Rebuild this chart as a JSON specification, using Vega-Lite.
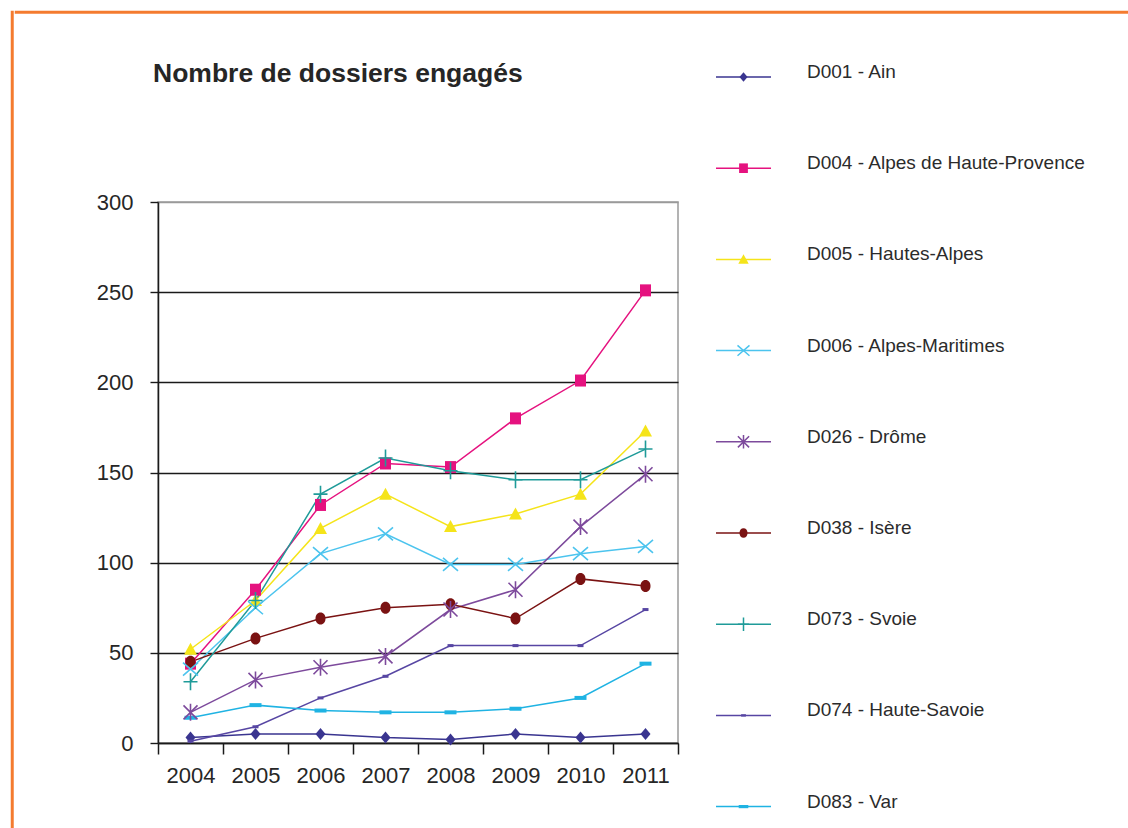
{
  "$schema": "https://vega.github.io/schema/vega-lite/v6.json",
  "padding": {"left": 10, "top": 10, "right": 0, "bottom": 0},
  "background": "white",
  "config": {
    "font": "Liberation Sans",
    "view": {"stroke": null}
  },
  "datasets": {
    "dossiers": [
      {"series": "D001 - Ain", "year": "2004", "value": 3},
      {"series": "D001 - Ain", "year": "2005", "value": 5},
      {"series": "D001 - Ain", "year": "2006", "value": 5},
      {"series": "D001 - Ain", "year": "2007", "value": 3},
      {"series": "D001 - Ain", "year": "2008", "value": 2},
      {"series": "D001 - Ain", "year": "2009", "value": 5},
      {"series": "D001 - Ain", "year": "2010", "value": 3},
      {"series": "D001 - Ain", "year": "2011", "value": 5},
      {"series": "D004 - Alpes de Haute-Provence", "year": "2004", "value": 44},
      {"series": "D004 - Alpes de Haute-Provence", "year": "2005", "value": 85},
      {"series": "D004 - Alpes de Haute-Provence", "year": "2006", "value": 132},
      {"series": "D004 - Alpes de Haute-Provence", "year": "2007", "value": 155},
      {"series": "D004 - Alpes de Haute-Provence", "year": "2008", "value": 153},
      {"series": "D004 - Alpes de Haute-Provence", "year": "2009", "value": 180},
      {"series": "D004 - Alpes de Haute-Provence", "year": "2010", "value": 201},
      {"series": "D004 - Alpes de Haute-Provence", "year": "2011", "value": 251},
      {"series": "D005 - Hautes-Alpes", "year": "2004", "value": 52},
      {"series": "D005 - Hautes-Alpes", "year": "2005", "value": 79},
      {"series": "D005 - Hautes-Alpes", "year": "2006", "value": 119},
      {"series": "D005 - Hautes-Alpes", "year": "2007", "value": 138},
      {"series": "D005 - Hautes-Alpes", "year": "2008", "value": 120},
      {"series": "D005 - Hautes-Alpes", "year": "2009", "value": 127},
      {"series": "D005 - Hautes-Alpes", "year": "2010", "value": 138},
      {"series": "D005 - Hautes-Alpes", "year": "2011", "value": 173},
      {"series": "D006 - Alpes-Maritimes", "year": "2004", "value": 41},
      {"series": "D006 - Alpes-Maritimes", "year": "2005", "value": 75},
      {"series": "D006 - Alpes-Maritimes", "year": "2006", "value": 105},
      {"series": "D006 - Alpes-Maritimes", "year": "2007", "value": 116},
      {"series": "D006 - Alpes-Maritimes", "year": "2008", "value": 99},
      {"series": "D006 - Alpes-Maritimes", "year": "2009", "value": 99},
      {"series": "D006 - Alpes-Maritimes", "year": "2010", "value": 105},
      {"series": "D006 - Alpes-Maritimes", "year": "2011", "value": 109},
      {"series": "D026 - Drôme", "year": "2004", "value": 17},
      {"series": "D026 - Drôme", "year": "2005", "value": 35},
      {"series": "D026 - Drôme", "year": "2006", "value": 42},
      {"series": "D026 - Drôme", "year": "2007", "value": 48},
      {"series": "D026 - Drôme", "year": "2008", "value": 74},
      {"series": "D026 - Drôme", "year": "2009", "value": 85},
      {"series": "D026 - Drôme", "year": "2010", "value": 120},
      {"series": "D026 - Drôme", "year": "2011", "value": 149},
      {"series": "D038 - Isère", "year": "2004", "value": 45},
      {"series": "D038 - Isère", "year": "2005", "value": 58},
      {"series": "D038 - Isère", "year": "2006", "value": 69},
      {"series": "D038 - Isère", "year": "2007", "value": 75},
      {"series": "D038 - Isère", "year": "2008", "value": 77},
      {"series": "D038 - Isère", "year": "2009", "value": 69},
      {"series": "D038 - Isère", "year": "2010", "value": 91},
      {"series": "D038 - Isère", "year": "2011", "value": 87},
      {"series": "D073 - Svoie", "year": "2004", "value": 34},
      {"series": "D073 - Svoie", "year": "2005", "value": 79},
      {"series": "D073 - Svoie", "year": "2006", "value": 138},
      {"series": "D073 - Svoie", "year": "2007", "value": 158},
      {"series": "D073 - Svoie", "year": "2008", "value": 151},
      {"series": "D073 - Svoie", "year": "2009", "value": 146},
      {"series": "D073 - Svoie", "year": "2010", "value": 146},
      {"series": "D073 - Svoie", "year": "2011", "value": 163},
      {"series": "D074 - Haute-Savoie", "year": "2004", "value": 1},
      {"series": "D074 - Haute-Savoie", "year": "2005", "value": 9},
      {"series": "D074 - Haute-Savoie", "year": "2006", "value": 25},
      {"series": "D074 - Haute-Savoie", "year": "2007", "value": 37},
      {"series": "D074 - Haute-Savoie", "year": "2008", "value": 54},
      {"series": "D074 - Haute-Savoie", "year": "2009", "value": 54},
      {"series": "D074 - Haute-Savoie", "year": "2010", "value": 54},
      {"series": "D074 - Haute-Savoie", "year": "2011", "value": 74},
      {"series": "D083 - Var", "year": "2004", "value": 14},
      {"series": "D083 - Var", "year": "2005", "value": 21},
      {"series": "D083 - Var", "year": "2006", "value": 18},
      {"series": "D083 - Var", "year": "2007", "value": 17},
      {"series": "D083 - Var", "year": "2008", "value": 17},
      {"series": "D083 - Var", "year": "2009", "value": 19},
      {"series": "D083 - Var", "year": "2010", "value": 25},
      {"series": "D083 - Var", "year": "2011", "value": 44}
    ]
  },
  "spacing": 0,
  "hconcat": [
    {
      "width": 0.5,
      "height": 818,
      "data": {"values": []},
      "mark": "point",
      "encoding": {},
      "view": {"stroke": "#f47b2f", "strokeWidth": 2.5}
    },
    {
      "spacing": 45,
      "vconcat": [
        {
          "width": 1120,
          "height": 0.5,
          "data": {"values": []},
          "mark": "point",
          "encoding": {},
          "view": {"stroke": "#f47b2f", "strokeWidth": 2.5}
        },
        {
          "spacing": 78,
          "hconcat": [
            {
              "width": 0.5,
              "height": 0.5,
              "data": {"values": []},
              "mark": "point",
              "encoding": {}
            },
            {
              "spacing": 35,
              "hconcat": [
                {
                  "width": 520,
                  "height": 541,
                  "view": {"stroke": "#9a9a9a", "strokeWidth": 1.5},
                  "title": {
                    "text": "Nombre de dossiers engagés",
                    "anchor": "start",
                    "frame": "group",
                    "font": "Liberation Sans",
                    "fontSize": 26.5,
                    "fontWeight": "bold",
                    "color": "#262626",
                    "baseline": "alphabetic",
                    "dx": -5,
                    "offset": 83
                  },
                  "data": {"name": "dossiers"},
                  "encoding": {
                    "x": {
                      "field": "year",
                      "type": "ordinal",
                      "scale": {"type": "band", "paddingInner": 0, "paddingOuter": 0},
                      "axis": {
                        "title": null,
                        "orient": "bottom",
                        "labelAngle": 0,
                        "tickBand": "extent",
                        "domainColor": "#1a1a1a",
                        "domainWidth": 1.5,
                        "tickColor": "#1a1a1a",
                        "tickWidth": 1.5,
                        "tickSize": 11,
                        "labelFont": "Liberation Sans",
                        "labelFontSize": 22,
                        "labelColor": "#262626",
                        "labelPadding": 11,
                        "grid": false
                      }
                    },
                    "y": {
                      "field": "value",
                      "type": "quantitative",
                      "scale": {"domain": [0, 300]},
                      "axis": {
                        "title": null,
                        "values": [0, 50, 100, 150, 200, 250, 300],
                        "grid": true,
                        "gridColor": {"condition": {"test": "datum.value === 300", "value": "#9a9a9a"}, "value": "#1a1a1a"},
                        "gridWidth": 1.4,
                        "domainColor": "#1a1a1a",
                        "domainWidth": 1.5,
                        "tickColor": "#1a1a1a",
                        "tickWidth": 1.4,
                        "tickSize": 8,
                        "labelFont": "Liberation Sans",
                        "labelFontSize": 22,
                        "labelColor": "#262626",
                        "labelPadding": 17
                      }
                    },
                    "color": {
                      "field": "series",
                      "type": "nominal",
                      "legend": null,
                      "scale": {
                        "domain": ["D001 - Ain", "D004 - Alpes de Haute-Provence", "D005 - Hautes-Alpes", "D006 - Alpes-Maritimes", "D026 - Drôme", "D038 - Isère", "D073 - Svoie", "D074 - Haute-Savoie", "D083 - Var"],
                        "range": ["#3a3590", "#e5127f", "#f5e41a", "#4cc4ee", "#7d4a9c", "#7a1212", "#1f9b99", "#5746a3", "#1fb3e3"]
                      }
                    },
                    "shape": {
                      "field": "series",
                      "type": "nominal",
                      "legend": null,
                      "scale": {
                        "domain": ["D001 - Ain", "D004 - Alpes de Haute-Provence", "D005 - Hautes-Alpes", "D006 - Alpes-Maritimes", "D026 - Drôme", "D038 - Isère", "D073 - Svoie", "D074 - Haute-Savoie", "D083 - Var"],
                        "range": [
                          "M0,-1.2L1,0L0,1.2L-1,0Z",
                          "M-1.1,-1.2H1.1V1.2H-1.1Z",
                          "M0,-1.3L1.3,1.1H-1.3Z",
                          "M-1.5,-1.3L1.5,1.3M1.5,-1.3L-1.5,1.3",
                          "M-1.4,-1.4L1.4,1.4M1.4,-1.4L-1.4,1.4M0,-1.7V1.7",
                          "M0,-1.2C0.6,-1.2 1,-0.7 1,0C1,0.7 0.6,1.2 0,1.2C-0.6,1.2 -1,0.7 -1,0C-1,-0.7 -0.6,-1.2 0,-1.2Z",
                          "M-1.4,0H1.4M0,-1.7V1.7",
                          "M-0.6,-0.3H0.6V0.3H-0.6Z",
                          "M-1.2,-0.4H1.2V0.4H-1.2Z"
                        ]
                      }
                    }
                  },
                  "layer": [
                    {"mark": {"type": "line", "strokeWidth": 1.5}},
                    {
                      "transform": [{"filter": {"field": "series", "oneOf": ["D001 - Ain", "D004 - Alpes de Haute-Provence", "D005 - Hautes-Alpes", "D038 - Isère", "D074 - Haute-Savoie", "D083 - Var"]}}],
                      "mark": {"type": "point", "filled": true, "opacity": 1, "size": 100}
                    },
                    {
                      "transform": [{"filter": {"field": "series", "oneOf": ["D006 - Alpes-Maritimes", "D026 - Drôme", "D073 - Svoie"]}}],
                      "mark": {"type": "point", "filled": false, "opacity": 1, "size": 100, "strokeWidth": 1.6}
                    }
                  ]
                },
                {
                  "width": 380,
                  "height": 729.6,
                  "data": {"name": "dossiers"},
                  "transform": [{"filter": "datum.year === '2004'"}],
                  "encoding": {
                    "y": {
                      "field": "series",
                      "type": "nominal",
                      "axis": null,
                      "scale": {
                        "type": "point",
                        "padding": 0,
                        "domain": ["D001 - Ain", "D004 - Alpes de Haute-Provence", "D005 - Hautes-Alpes", "D006 - Alpes-Maritimes", "D026 - Drôme", "D038 - Isère", "D073 - Svoie", "D074 - Haute-Savoie", "D083 - Var"]
                      }
                    },
                    "color": {
                      "field": "series",
                      "type": "nominal",
                      "legend": null,
                      "scale": {
                        "domain": ["D001 - Ain", "D004 - Alpes de Haute-Provence", "D005 - Hautes-Alpes", "D006 - Alpes-Maritimes", "D026 - Drôme", "D038 - Isère", "D073 - Svoie", "D074 - Haute-Savoie", "D083 - Var"],
                        "range": ["#3a3590", "#e5127f", "#f5e41a", "#4cc4ee", "#7d4a9c", "#7a1212", "#1f9b99", "#5746a3", "#1fb3e3"]
                      }
                    }
                  },
                  "layer": [
                    {
                      "mark": {"type": "rule", "strokeWidth": 1.5, "yOffset": -125},
                      "encoding": {
                        "x": {"datum": 0, "type": "quantitative", "scale": {"domain": [0, 380], "nice": false}, "axis": null},
                        "x2": {"datum": 55}
                      }
                    },
                    {
                      "transform": [{"filter": {"field": "series", "oneOf": ["D001 - Ain", "D004 - Alpes de Haute-Provence", "D005 - Hautes-Alpes", "D038 - Isère", "D074 - Haute-Savoie", "D083 - Var"]}}],
                      "mark": {"type": "point", "filled": true, "opacity": 1, "size": 64, "yOffset": -125},
                      "encoding": {
                        "x": {"datum": 27.5, "type": "quantitative"},
                        "shape": {
                          "field": "series",
                          "type": "nominal",
                          "legend": null,
                          "scale": {
                            "domain": ["D001 - Ain", "D004 - Alpes de Haute-Provence", "D005 - Hautes-Alpes", "D006 - Alpes-Maritimes", "D026 - Drôme", "D038 - Isère", "D073 - Svoie", "D074 - Haute-Savoie", "D083 - Var"],
                            "range": [
                              "M0,-1.2L1,0L0,1.2L-1,0Z",
                              "M-1.1,-1.2H1.1V1.2H-1.1Z",
                              "M0,-1.3L1.3,1.1H-1.3Z",
                              "M-1.5,-1.3L1.5,1.3M1.5,-1.3L-1.5,1.3",
                              "M-1.4,-1.4L1.4,1.4M1.4,-1.4L-1.4,1.4M0,-1.7V1.7",
                              "M0,-1.2C0.6,-1.2 1,-0.7 1,0C1,0.7 0.6,1.2 0,1.2C-0.6,1.2 -1,0.7 -1,0C-1,-0.7 -0.6,-1.2 0,-1.2Z",
                              "M-1.4,0H1.4M0,-1.7V1.7",
                              "M-0.6,-0.3H0.6V0.3H-0.6Z",
                              "M-1.2,-0.4H1.2V0.4H-1.2Z"
                            ]
                          }
                        }
                      }
                    },
                    {
                      "transform": [{"filter": {"field": "series", "oneOf": ["D006 - Alpes-Maritimes", "D026 - Drôme", "D073 - Svoie"]}}],
                      "mark": {"type": "point", "filled": false, "opacity": 1, "size": 64, "strokeWidth": 1.5, "yOffset": -125},
                      "encoding": {
                        "x": {"datum": 27.5, "type": "quantitative"},
                        "shape": {"field": "series", "type": "nominal", "legend": null}
                      }
                    },
                    {
                      "mark": {"type": "text", "align": "left", "baseline": "middle", "yOffset": -125, "dy": -5, "font": "Liberation Sans", "fontSize": 19, "color": "#2b2b2b"},
                      "encoding": {
                        "x": {"datum": 91, "type": "quantitative"},
                        "text": {"field": "series"},
                        "color": {"value": "#2b2b2b"}
                      }
                    }
                  ]
                }
              ]
            }
          ]
        }
      ]
    }
  ]
}
